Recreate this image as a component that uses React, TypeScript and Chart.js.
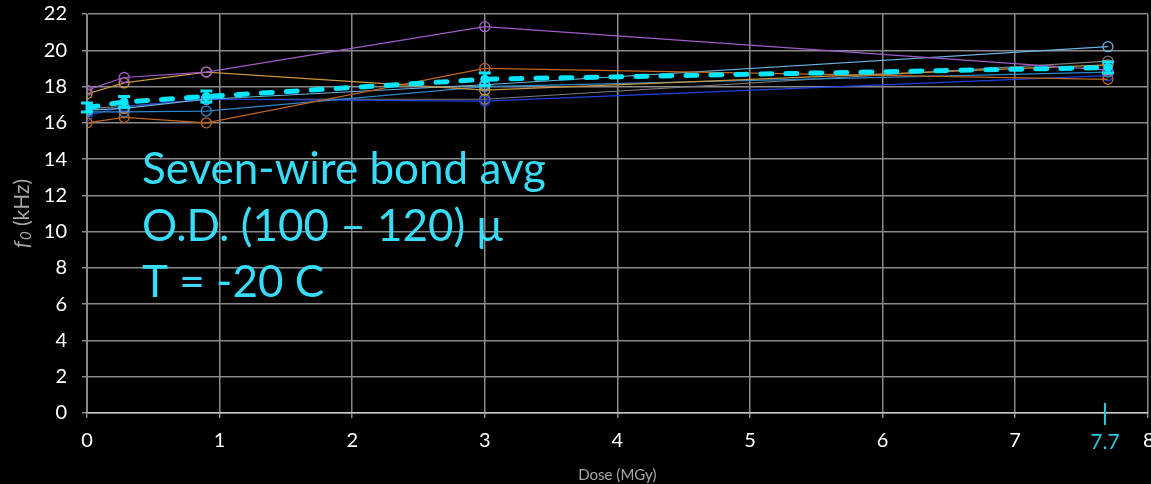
import React, { useEffect, useRef } from "react";
import { Chart, registerables } from "chart.js";

Chart.register(...registerables);

const doses = [0, 0.28, 0.9, 3, 7.7];
const purpleWire = [17.8, 18.5, 18.8, 21.3, 18.9];
const tanWire = [17.6, 18.2, 18.8, 17.8, 19.2];
const brownWire = [16.0, 16.3, 16.0, 19.0, 18.4];
const skyWire = [16.7, 16.8, 17.3, 18.1, 20.2];
const steelWire = [16.6, 16.6, 16.65, 18.0, 18.8];
const blueWire = [16.4, 16.9, 17.3, 17.2, 18.6];
const grayWire = [16.8, 16.9, 17.3, 17.3, 19.4];
const avgValues = [16.84, 17.15, 17.45, 18.4, 19.05];
const avgErrors = [0.25, 0.3, 0.3, 0.35, 0.3];
const markerDose = 7.7;
const markerLabel = "7.7";
const xTicks = [0, 1, 2, 3, 4, 5, 6, 7, 8];
const yTicks = [0, 2, 4, 6, 8, 10, 12, 14, 16, 18, 20, 22];
const noteLines = ["Seven-wire bond avg", "O.D. (100 \u2013 120) \u03bc", "T = -20 C"];

const FONT = "Lato, 'Open Sans', sans-serif";
const CYAN = "#00e6ff";
const X_MAX = 8;

const wires = [
  { values: purpleWire, color: "#a05cc8" },
  { values: tanWire, color: "#c8963c" },
  { values: brownWire, color: "#c0661e" },
  { values: skyWire, color: "#6cb4e0" },
  { values: steelWire, color: "#2a88cc" },
  { values: blueWire, color: "#2040e0" },
  { values: grayWire, color: "#7c7c7c" },
];

const toPoints = (vals: number[]) => doses.map((d, i) => ({ x: d, y: vals[i] }));

const extrasPlugin = {
  id: "extras",
  beforeDraw(chart: any) {
    const ctx = chart.ctx;
    ctx.save();
    ctx.fillStyle = "#000";
    ctx.fillRect(0, 0, chart.width, chart.height);
    ctx.restore();
  },
  afterDatasetsDraw(chart: any) {
    const ctx = chart.ctx;
    const xs = chart.scales.x;
    const ys = chart.scales.y;
    ctx.save();
    ctx.strokeStyle = CYAN;
    ctx.lineWidth = 3;
    doses.forEach((d, i) => {
      const px = xs.getPixelForValue(d);
      const top = ys.getPixelForValue(avgValues[i] + avgErrors[i]);
      const bot = ys.getPixelForValue(avgValues[i] - avgErrors[i]);
      ctx.beginPath();
      ctx.moveTo(px, top);
      ctx.lineTo(px, bot);
      ctx.moveTo(px - 6, top);
      ctx.lineTo(px + 6, top);
      ctx.moveTo(px - 6, bot);
      ctx.lineTo(px + 6, bot);
      ctx.stroke();
    });
    ctx.restore();
  },
  afterDraw(chart: any) {
    const ctx = chart.ctx;
    const xs = chart.scales.x;
    const area = chart.chartArea;
    ctx.save();
    ctx.fillStyle = "#fff";
    ctx.font = `20px ${FONT}`;
    ctx.textAlign = "center";
    ctx.textBaseline = "middle";
    ctx.fillText(String(X_MAX), xs.getPixelForValue(X_MAX) + 1, area.bottom + 28);

    const mx = xs.getPixelForValue(markerDose);
    ctx.strokeStyle = "#2ec8e6";
    ctx.lineWidth = 2;
    ctx.beginPath();
    ctx.moveTo(mx - 3, area.bottom - 10);
    ctx.lineTo(mx - 3, area.bottom + 12);
    ctx.stroke();
    ctx.fillStyle = "#2ec8e6";
    ctx.font = `21px ${FONT}`;
    ctx.textAlign = "center";
    ctx.textBaseline = "middle";
    ctx.fillText(markerLabel, mx - 3, area.bottom + 29);

    ctx.fillStyle = "#38dcf6";
    ctx.font = `44px ${FONT}`;
    ctx.textAlign = "left";
    ctx.textBaseline = "alphabetic";
    noteLines.forEach((t, i) => {
      ctx.fillText(t, 142, 184 + i * 56.5);
    });

    const cy = (area.top + area.bottom) / 2;
    ctx.translate(22, cy);
    ctx.rotate(-Math.PI / 2);
    ctx.fillStyle = "#a8a8a8";
    ctx.textBaseline = "middle";
    ctx.textAlign = "left";
    const f1 = `italic 22px ${FONT}`;
    const f2 = `italic 15px ${FONT}`;
    const f3 = `21px ${FONT}`;
    ctx.font = f1;
    const w1 = ctx.measureText("f").width + 1;
    ctx.font = f2;
    const w2 = ctx.measureText("0").width;
    ctx.font = f3;
    const w3 = ctx.measureText(" (kHz)").width;
    let x0 = -(w1 + w2 + w3) / 2;
    ctx.font = f1;
    ctx.fillText("f", x0, 0);
    x0 += w1;
    ctx.font = f2;
    ctx.fillText("0", x0, 4);
    x0 += w2;
    ctx.font = f3;
    ctx.fillText(" (kHz)", x0, 0);
    ctx.restore();
  },
};

export default function App() {
  const ref = useRef<HTMLCanvasElement>(null);
  useEffect(() => {
    document.body.style.margin = "0";
    document.body.style.background = "#000";
    document.body.style.overflow = "hidden";
    const datasets: any[] = [
      {
        label: "Average",
        data: toPoints(avgValues),
        borderColor: CYAN,
        backgroundColor: CYAN,
        borderWidth: 5,
        borderDash: [11, 14],
        borderCapStyle: "round",
        pointRadius: 4,
        pointBackgroundColor: CYAN,
        pointBorderColor: CYAN,
        pointBorderWidth: 1,
      },
      ...wires.map((w, i) => ({
        label: `Wire ${i + 1}`,
        data: toPoints(w.values),
        borderColor: w.color,
        backgroundColor: "transparent",
        borderWidth: 1.2,
        pointRadius: 5,
        pointBorderWidth: 1.3,
        pointBorderColor: w.color,
        pointBackgroundColor: "transparent",
      })),
    ];
    const chart = new Chart(ref.current!, {
      type: "line",
      data: { datasets },
      options: {
        animation: false,
        responsive: true,
        maintainAspectRatio: false,
        layout: { padding: { left: 0, right: 3, top: 14, bottom: 0 } },
        plugins: { legend: { display: false }, tooltip: { enabled: false } },
        scales: {
          x: {
            type: "linear",
            min: 0,
            max: X_MAX,
            afterBuildTicks(s: any) {
              s.ticks = xTicks.map((v) => ({ value: v }));
            },
            afterFit(s: any) {
              s.height = 71;
              s.paddingLeft = 0;
              s.paddingRight = 0;
            },
            grid: { color: "#8a8a8a", lineWidth: 1.5, tickLength: 5, tickColor: "#8a8a8a" },
            border: { color: "#c8c8c8", width: 1.5 },
            ticks: {
              color: "#fff",
              font: { family: FONT, size: 20 },
              padding: 11,
              maxRotation: 0,
              callback: (v: any) => (v === X_MAX ? "" : String(v)),
            },
            title: {
              display: true,
              text: "Dose (MGy)",
              color: "#a8a8a8",
              font: { family: FONT, size: 15 },
              padding: { top: 10, bottom: 0 },
            },
          },
          y: {
            type: "linear",
            min: 0,
            max: 22,
            afterBuildTicks(s: any) {
              s.ticks = yTicks.map((v) => ({ value: v }));
            },
            afterFit(s: any) {
              s.width = 87;
              s.paddingTop = 0;
              s.paddingBottom = 0;
            },
            grid: { color: "#8a8a8a", lineWidth: 1.5, tickLength: 5, tickColor: "#8a8a8a" },
            border: { color: "#8a8a8a", width: 1 },
            ticks: { color: "#fff", font: { family: FONT, size: 20 }, padding: 15 },
          },
        },
      },
      plugins: [extrasPlugin],
    });
    return () => chart.destroy();
  }, []);
  return (
    <div style={{ width: 1151, height: 484, overflow: "hidden", background: "#000" }}>
      <div style={{ width: 1154, height: 484, background: "#000", position: "relative" }}>
        <canvas ref={ref} />
      </div>
    </div>
  );
}
